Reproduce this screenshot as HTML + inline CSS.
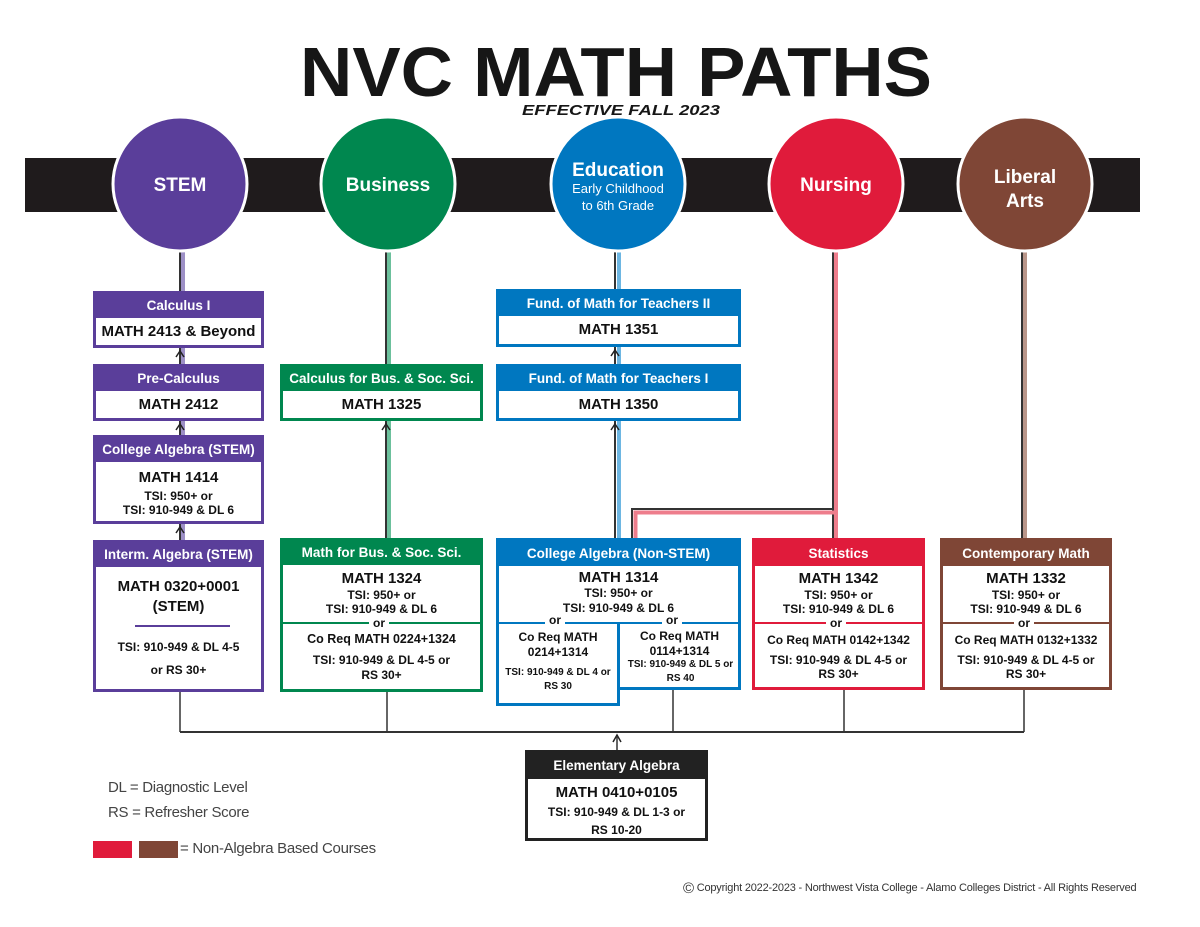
<!DOCTYPE html>
<html><head><meta charset="utf-8">
<style>
*{margin:0;padding:0;box-sizing:border-box}
body{width:1200px;height:927px;background:#fff;position:relative;overflow:hidden;font-family:"Liberation Sans",Arial,sans-serif;color:#111}
.box{position:absolute;border:3px solid;background:#fff}
.h{position:absolute;left:0;right:0;top:0;height:24px;color:#fff;font-weight:bold;font-size:13.5px;line-height:24px;text-align:center;white-space:nowrap}
.t{position:absolute;left:0;right:0;text-align:center;font-weight:bold;line-height:16px;white-space:nowrap}
.m{font-size:15px}
.s{font-size:12px}
.xs{font-size:10px}
.or{position:absolute;height:2px}
.ort{position:absolute;background:#fff;font-weight:bold;font-size:12px;line-height:14px;padding:0 4px}
svg{position:absolute;left:0;top:0}
.leg{position:absolute;font-size:15px;color:#444;white-space:nowrap;letter-spacing:-0.3px}
</style></head><body>
<svg width="1200" height="927">
<rect x="25" y="158" width="1115" height="54" fill="#1f1b1c"/>
<g stroke-width="2" stroke="#333" fill="none">
<line x1="180" y1="240" x2="180" y2="291"/>
<line x1="386" y1="240" x2="386" y2="364"/>
<line x1="386" y1="421" x2="386" y2="538"/>
<line x1="615" y1="240" x2="615" y2="289"/>
<line x1="615" y1="347" x2="615" y2="364"/>
<line x1="615" y1="421" x2="615" y2="538"/>
<line x1="833" y1="240" x2="833" y2="538"/>
<polyline points="833,509 632,509 632,538"/>
<line x1="1022" y1="240" x2="1022" y2="538"/>
<line x1="180" y1="348" x2="180" y2="364"/>
<line x1="180" y1="421" x2="180" y2="435"/>
<line x1="180" y1="524" x2="180" y2="540"/>
</g>
<g stroke-width="4" fill="none">
<line x1="183" y1="240" x2="183" y2="291" stroke="#9d90c6"/>
<line x1="183" y1="348" x2="183" y2="364" stroke="#9d90c6"/>
<line x1="183" y1="421" x2="183" y2="435" stroke="#9d90c6"/>
<line x1="183" y1="524" x2="183" y2="540" stroke="#9d90c6"/>
<line x1="389" y1="240" x2="389" y2="364" stroke="#6cc09c"/>
<line x1="389" y1="421" x2="389" y2="538" stroke="#6cc09c"/>
<line x1="619" y1="240" x2="619" y2="289" stroke="#6db6e2"/>
<line x1="619" y1="347" x2="619" y2="364" stroke="#6db6e2"/>
<line x1="619" y1="421" x2="619" y2="538" stroke="#6db6e2"/>
<line x1="836" y1="240" x2="836" y2="538" stroke="#ee7d8c"/>
<polyline points="834,512.5 635.5,512.5 635.5,538" stroke="#ee7d8c"/>
<line x1="1025" y1="240" x2="1025" y2="538" stroke="#b9968a"/>
</g>
<g stroke="#222" stroke-width="1.5" fill="none">
<polyline points="176,357 180,351 184,357"/>
<polyline points="176,430 180,424 184,430"/>
<polyline points="176,533 180,527 184,533"/>
<polyline points="382,430 386,424 390,430"/>
<polyline points="611,356 615,350 619,356"/>
<polyline points="611,430 615,424 619,430"/>
<polyline points="613,742 617,735 621,742"/>
</g>
<g stroke="#333" stroke-width="1.5" fill="none">
<line x1="180" y1="692" x2="180" y2="732"/>
<line x1="387" y1="692" x2="387" y2="732"/>
<line x1="673" y1="690" x2="673" y2="732"/>
<line x1="844" y1="690" x2="844" y2="732"/>
<line x1="1024" y1="690" x2="1024" y2="732"/>
<line x1="180" y1="732" x2="1024" y2="732" stroke-width="2"/>
<line x1="617" y1="736" x2="617" y2="750"/>
</g>
<g stroke="#fff" stroke-width="3">
<ellipse cx="180" cy="184" rx="67" ry="67" fill="#5a3e9a"/>
<ellipse cx="388" cy="184" rx="67" ry="67" fill="#00874f"/>
<ellipse cx="618" cy="184" rx="67" ry="67" fill="#0077c0"/>
<ellipse cx="836" cy="184" rx="67" ry="67" fill="#e01b3b"/>
<ellipse cx="1025" cy="184" rx="67" ry="67" fill="#7f4636"/>
</g>
<text x="300" y="96" font-family="Liberation Sans" font-weight="bold" font-size="70" textLength="632" lengthAdjust="spacingAndGlyphs" fill="#161616">NVC MATH PATHS</text>
<text x="522" y="115" font-family="Liberation Sans" font-weight="bold" font-style="italic" font-size="15" textLength="198" lengthAdjust="spacingAndGlyphs" fill="#161616">EFFECTIVE FALL 2023</text>
<g fill="#fff" font-family="Liberation Sans" font-weight="bold" text-anchor="middle">
<text x="180" y="191" font-size="19">STEM</text>
<text x="388" y="191" font-size="19">Business</text>
<text x="618" y="176" font-size="19">Education</text>
<text x="618" y="193" font-size="13" font-weight="normal">Early Childhood</text>
<text x="618" y="210" font-size="13" font-weight="normal">to 6th Grade</text>
<text x="836" y="191" font-size="19">Nursing</text>
<text x="1025" y="183" font-size="19">Liberal</text>
<text x="1025" y="207" font-size="19">Arts</text>
</g>
</svg>

<div class="box" style="left:93px;top:291px;width:171px;height:57px;border-color:#5a3e9a"><div class="h" style="background:#5a3e9a">Calculus I</div><div class="t m" style="top:30px">MATH 2413 &amp; Beyond</div></div>
<div class="box" style="left:93px;top:364px;width:171px;height:57px;border-color:#5a3e9a"><div class="h" style="background:#5a3e9a">Pre-Calculus</div><div class="t m" style="top:30px">MATH 2412</div></div>
<div class="box" style="left:93px;top:435px;width:171px;height:89px;border-color:#5a3e9a"><div class="h" style="background:#5a3e9a">College Algebra (STEM)</div><div class="t m" style="top:32px">MATH 1414</div><div class="t s" style="top:50px">TSI: 950+ or</div><div class="t s" style="top:64px">TSI: 910-949 &amp; DL 6</div></div>
<div class="box" style="left:93px;top:540px;width:171px;height:152px;border-color:#5a3e9a"><div class="h" style="background:#5a3e9a">Interm. Algebra (STEM)</div><div class="t m" style="top:36px">MATH 0320+0001</div><div class="t m" style="top:56px">(STEM)</div><div class="or" style="left:39px;width:95px;top:82px;background:#5a3e9a"></div><div class="t s" style="top:96px">TSI: 910-949 &amp; DL 4-5</div><div class="t s" style="top:119px">or RS 30+</div></div>

<div class="box" style="left:280px;top:364px;width:203px;height:57px;border-color:#00874f"><div class="h" style="background:#00874f">Calculus for Bus. &amp; Soc. Sci.</div><div class="t m" style="top:30px">MATH 1325</div></div>
<div class="box" style="left:280px;top:538px;width:203px;height:154px;border-color:#00874f"><div class="h" style="background:#00874f">Math for Bus. &amp; Soc. Sci.</div><div class="t m" style="top:30px">MATH 1324</div><div class="t s" style="top:46px">TSI: 950+ or</div><div class="t s" style="top:60px">TSI: 910-949 &amp; DL 6</div><div class="or" style="left:0;right:0;top:81px;background:#00874f"></div><div class="ort" style="left:86px;top:75px">or</div><div class="t s" style="top:90px;font-size:12.5px">Co Req MATH 0224+1324</div><div class="t s" style="top:111px">TSI: 910-949 &amp; DL 4-5 or</div><div class="t s" style="top:126px">RS 30+</div></div>

<div class="box" style="left:496px;top:289px;width:245px;height:58px;border-color:#0077c0"><div class="h" style="background:#0077c0">Fund. of Math for Teachers II</div><div class="t m" style="top:30px">MATH 1351</div></div>
<div class="box" style="left:496px;top:364px;width:245px;height:57px;border-color:#0077c0"><div class="h" style="background:#0077c0">Fund. of Math for Teachers I</div><div class="t m" style="top:30px">MATH 1350</div></div>
<div class="box" style="left:496px;top:538px;width:245px;height:152px;border-color:#0077c0"><div class="h" style="background:#0077c0;height:25px;line-height:25px">College Algebra (Non-STEM)</div><div class="t m" style="top:29px">MATH 1314</div><div class="t s" style="top:44px">TSI: 950+ or</div><div class="t s" style="top:59px">TSI: 910-949 &amp; DL 6</div><div class="or" style="left:0;right:0;top:81px;background:#0077c0"></div></div>
<div class="box" style="left:496px;top:624px;width:124px;height:82px;border-color:#0077c0;border-top:none"><div class="t s" style="top:5px">Co Req MATH</div><div class="t s" style="top:20px">0214+1314</div><div class="t xs" style="top:41px">TSI: 910-949 &amp; DL 4 or</div><div class="t xs" style="top:55px">RS 30</div></div>
<div class="ort" style="left:545px;top:613px">or</div>
<div class="ort" style="left:662px;top:613px">or</div>
<div class="t s" style="left:620px;width:119px;top:628px">Co Req MATH</div>
<div class="t s" style="left:620px;width:119px;top:643px">0114+1314</div>
<div class="t xs" style="left:620px;width:121px;top:657px">TSI: 910-949 &amp; DL 5 or</div>
<div class="t xs" style="left:620px;width:121px;top:671px">RS 40</div>

<div class="box" style="left:752px;top:538px;width:173px;height:152px;border-color:#e01b3b"><div class="h" style="background:#e01b3b;height:25px;line-height:25px">Statistics</div><div class="t m" style="top:30px">MATH 1342</div><div class="t s" style="top:46px">TSI: 950+ or</div><div class="t s" style="top:60px">TSI: 910-949 &amp; DL 6</div><div class="or" style="left:0;right:0;top:81px;background:#e01b3b"></div><div class="ort" style="left:71px;top:75px">or</div><div class="t s" style="top:91px">Co Req MATH 0142+1342</div><div class="t s" style="top:111px">TSI: 910-949 &amp; DL 4-5 or</div><div class="t s" style="top:125px">RS 30+</div></div>

<div class="box" style="left:940px;top:538px;width:172px;height:152px;border-color:#7f4636"><div class="h" style="background:#7f4636;height:25px;line-height:25px">Contemporary Math</div><div class="t m" style="top:30px">MATH 1332</div><div class="t s" style="top:46px">TSI: 950+ or</div><div class="t s" style="top:60px">TSI: 910-949 &amp; DL 6</div><div class="or" style="left:0;right:0;top:81px;background:#7f4636"></div><div class="ort" style="left:71px;top:75px">or</div><div class="t s" style="top:91px">Co Req MATH 0132+1332</div><div class="t s" style="top:111px">TSI: 910-949 &amp; DL 4-5 or</div><div class="t s" style="top:125px">RS 30+</div></div>

<div class="box" style="left:525px;top:750px;width:183px;height:91px;border-color:#222"><div class="h" style="background:#222;height:26px;line-height:26px">Elementary Algebra</div><div class="t m" style="top:32px">MATH 0410+0105</div><div class="t s" style="top:51px">TSI: 910-949 &amp; DL 1-3 or</div><div class="t s" style="top:69px">RS 10-20</div></div>

<div class="leg" style="left:108px;top:779px">DL = Diagnostic Level</div>
<div class="leg" style="left:108px;top:804px">RS = Refresher Score</div>
<div style="position:absolute;left:93px;top:841px;width:39px;height:17px;background:#e01b3b"></div>
<div style="position:absolute;left:139px;top:841px;width:39px;height:17px;background:#7f4636"></div>
<div class="leg" style="left:180px;top:840px">= Non-Algebra Based Courses</div>
<div class="leg" style="left:683px;top:880px;font-size:11px;color:#333;letter-spacing:-0.2px"><span style="font-size:15px;vertical-align:-2px">©</span> Copyright 2022-2023 - Northwest Vista College - Alamo Colleges District - All Rights Reserved</div>
</body></html>
